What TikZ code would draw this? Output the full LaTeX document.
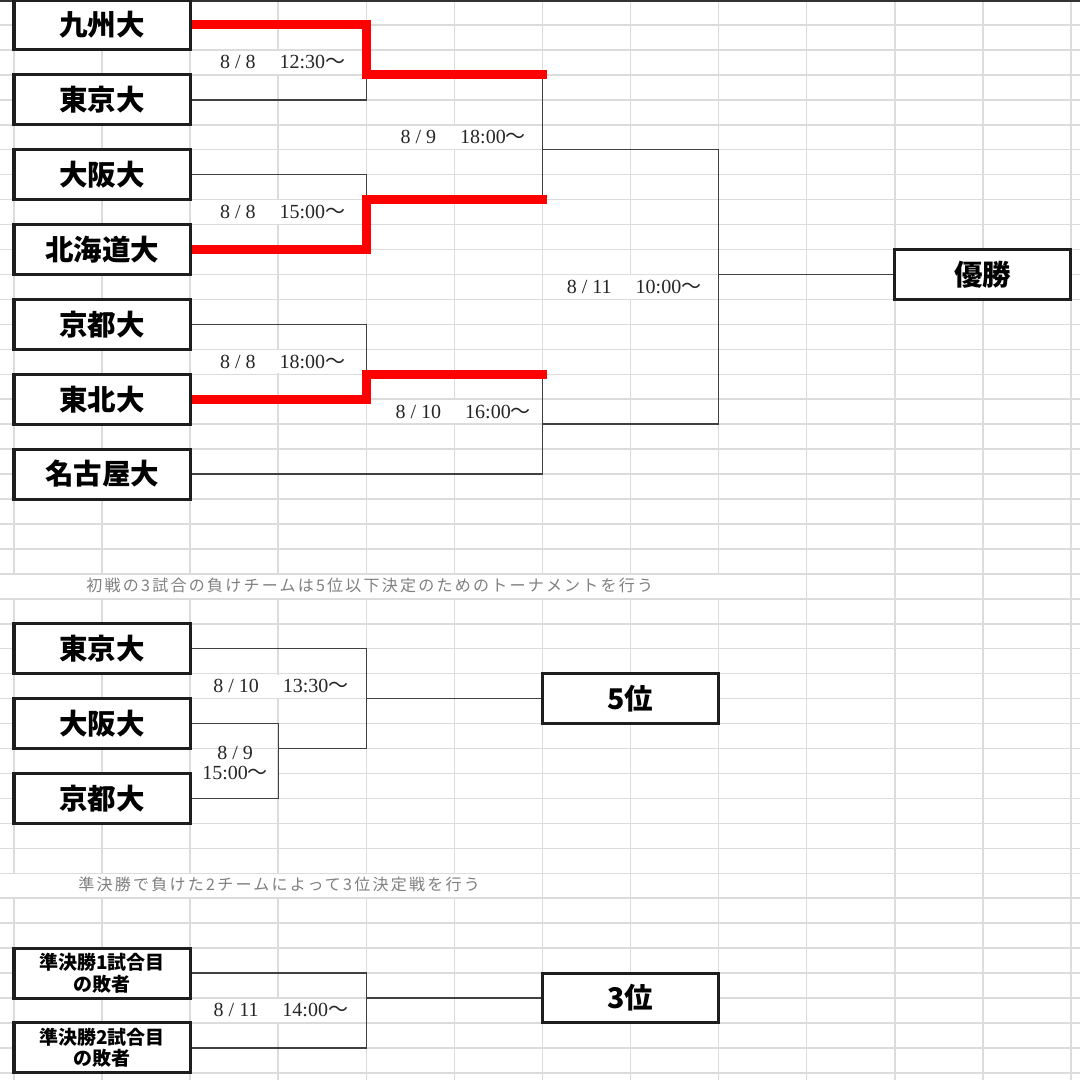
\documentclass[tikz,border=0pt]{standalone}
\usepackage{fontspec}
\setmainfont{Liberation Serif}
\newfontfamily\cjk{Noto Sans CJK JP}
\newfontfamily\notefont{Noto Sans CJK JP}[LetterSpace=14]
\pgfdeclarelayer{gridlayer}
\pgfdeclarelayer{linelayer}
\pgfsetlayers{gridlayer,linelayer,main}
\definecolor{gridgray}{HTML}{DCDCDC}
\definecolor{conncol}{HTML}{404040}
\definecolor{boxcol}{HTML}{1E1E1E}
\definecolor{wincol}{HTML}{FF0000}
\definecolor{notecol}{HTML}{808080}
\newcommand\wv{{\cjk ～}}
\tikzset{
  team/.style={draw=boxcol, line width=3bp, fill=white, minimum width=176.16bp, minimum height=49.9bp, inner sep=0pt, font=\cjk\bfseries\fontsize{28.5bp}{30bp}\selectfont},
  teamsmall/.style={team, align=center, font=\cjk\bfseries\fontsize{19bp}{21.5bp}\selectfont},
  conn/.style={draw=conncol, line width=1.4bp},
  winline/.style={draw=wincol, line width=9bp, line join=miter, line cap=rect},
  datelbl/.style={font=\fontsize{20bp}{20bp}\selectfont, inner sep=0pt, text=black!85},
  note/.style={font=\notefont\fontsize{16bp}{18bp}\selectfont, text=notecol, inner sep=0pt},
  gridline/.style={draw=gridgray, line width=1.5bp},
  cellmask/.style={fill=white},
}
\begin{document}
\begin{tikzpicture}[x=88.08bp, y=-24.95bp]
\useasboundingbox (-0.15895,0) rectangle (12.1026,43.2866);
\begin{pgfonlayer}{gridlayer}
\begin{scope}
\clip (-0.15895,0) rectangle (12.1026,43.2866);
\foreach \j in {0,...,12} \draw[gridline] (\j,-0.5) -- (\j,43.5);
\foreach \k in {1,...,43} \draw[gridline] (-0.2,\k) -- (12.2,\k);
% masks where text overflows / cells are merged
\fill[cellmask] (-0.2,23.035) rectangle (8.5,23.965);
\fill[cellmask] (-0.2,35.035) rectangle (5.5,35.965);
\fill[cellmask] (2.01,2.035) rectangle (3.99,2.965);
\fill[cellmask] (2.01,8.035) rectangle (3.99,8.965);
\fill[cellmask] (2.01,14.035) rectangle (3.99,14.965);
\fill[cellmask] (4.01,5.035) rectangle (5.99,5.965);
\fill[cellmask] (4.01,16.035) rectangle (5.99,16.965);
\fill[cellmask] (6.01,11.035) rectangle (7.99,11.965);
\fill[cellmask] (2.01,27.035) rectangle (3.99,27.965);
\fill[cellmask] (2.01,30.035) rectangle (2.99,31.965);
\fill[cellmask] (2.01,40.035) rectangle (3.99,40.965);
\draw[draw=black!80, line width=1.6bp] (-0.2,0.03) -- (12.2,0.03);
\end{scope}
\end{pgfonlayer}

% main bracket teams
\node[team] (t1) at (1,1) {九州大};
\node[team] (t2) at (1,4) {東京大};
\node[team] (t3) at (1,7) {大阪大};
\node[team] (t4) at (1,10) {北海道大};
\node[team] (t5) at (1,13) {京都大};
\node[team] (t6) at (1,16) {東北大};
\node[team] (t7) at (1,19) {名古屋大};
\node[team] (win) at (11,11) {優勝};

% 5th place bracket
\node[team] (l1) at (1,26) {東京大};
\node[team] (l2) at (1,29) {大阪大};
\node[team] (l3) at (1,32) {京都大};
\node[team] (fifth) at (7,28) {5位};

% 3rd place bracket
\node[teamsmall] (s1) at (1,39) {準決勝1試合目\\の敗者};
\node[teamsmall] (s2) at (1,42) {準決勝2試合目\\の敗者};
\node[team] (third) at (7,40) {3位};

% notes
\node[note] (n1) at (4.04,23.45) {初戦の3試合の負けチームは5位以下決定のためのトーナメントを行う};
\node[note] (n2) at (3.01,35.43) {準決勝で負けた2チームによって3位決定戦を行う};

% date labels
\node[datelbl] (d1) at (3.05,2.5) {8 / 8\hspace{1.2em}12:30\wv};
\node[datelbl] (d2) at (3.05,8.5) {8 / 8\hspace{1.2em}15:00\wv};
\node[datelbl] (d3) at (3.05,14.5) {8 / 8\hspace{1.2em}18:00\wv};
\node[datelbl] (d4) at (5.10,5.5) {8 / 9\hspace{1.2em}18:00\wv};
\node[datelbl] (d5) at (5.10,16.5) {8 / 10\hspace{1.2em}16:00\wv};
\node[datelbl] (d6) at (7.04,11.5) {8 / 11\hspace{1.2em}10:00\wv};
\node[datelbl] (d7) at (3.03,27.5) {8 / 10\hspace{1.2em}13:30\wv};
\node[datelbl, align=center] (d8) at (2.51,30.58) {8 / 9\\15:00\wv};
\node[datelbl] (d9) at (3.03,40.5) {8 / 11\hspace{1.2em}14:00\wv};

% junction coordinates
\coordinate (j1) at (4,3);
\coordinate (e1) at (6,3);
\coordinate (j2) at (4,8);
\coordinate (e2) at (6,8);
\coordinate (j3) at (4,15);
\coordinate (e3) at (6,15);
\coordinate (e4) at (6,19);
\coordinate (o1) at (6,6);
\coordinate (o1b) at (8,6);
\coordinate (o2) at (6,17);
\coordinate (o2b) at (8,17);
\coordinate (fj) at (8,11);
\coordinate (k1) at (4,30);
\coordinate (k2) at (3,30);
\coordinate (k3) at (3,32);
\coordinate (k4) at (4,28);
\coordinate (b1) at (4,42);
\coordinate (b2) at (4,40);

\begin{pgfonlayer}{linelayer}
\draw[conn] (t2.east) -| (j1);
\draw[conn] (t3.east) -| (j2);
\draw[conn] (t5.east) -| (j3);
\draw[conn] (e1) -- (e2);
\draw[conn] (e3) -- (e4) -- (t7.east);
\draw[conn] (o1) -- (o1b) -- (o2b) -- (o2);
\draw[conn] (fj) -- (win.west);
\draw[winline] (t1.east) -| (j1) -- (e1);
\draw[winline] (t4.east) -| (j2) -- (e2);
\draw[winline] (t6.east) -| (j3) -- (e3);
\draw[conn] (l1.east) -| (k1) -- (k2);
\draw[conn] (l2.east) -| (k3) -- (l3.east);
\draw[conn] (k4) -- (fifth.west);
\draw[conn] (s1.east) -| (b1) -- (s2.east);
\draw[conn] (b2) -- (third.west);
\end{pgfonlayer}
\end{tikzpicture}
\end{document}
